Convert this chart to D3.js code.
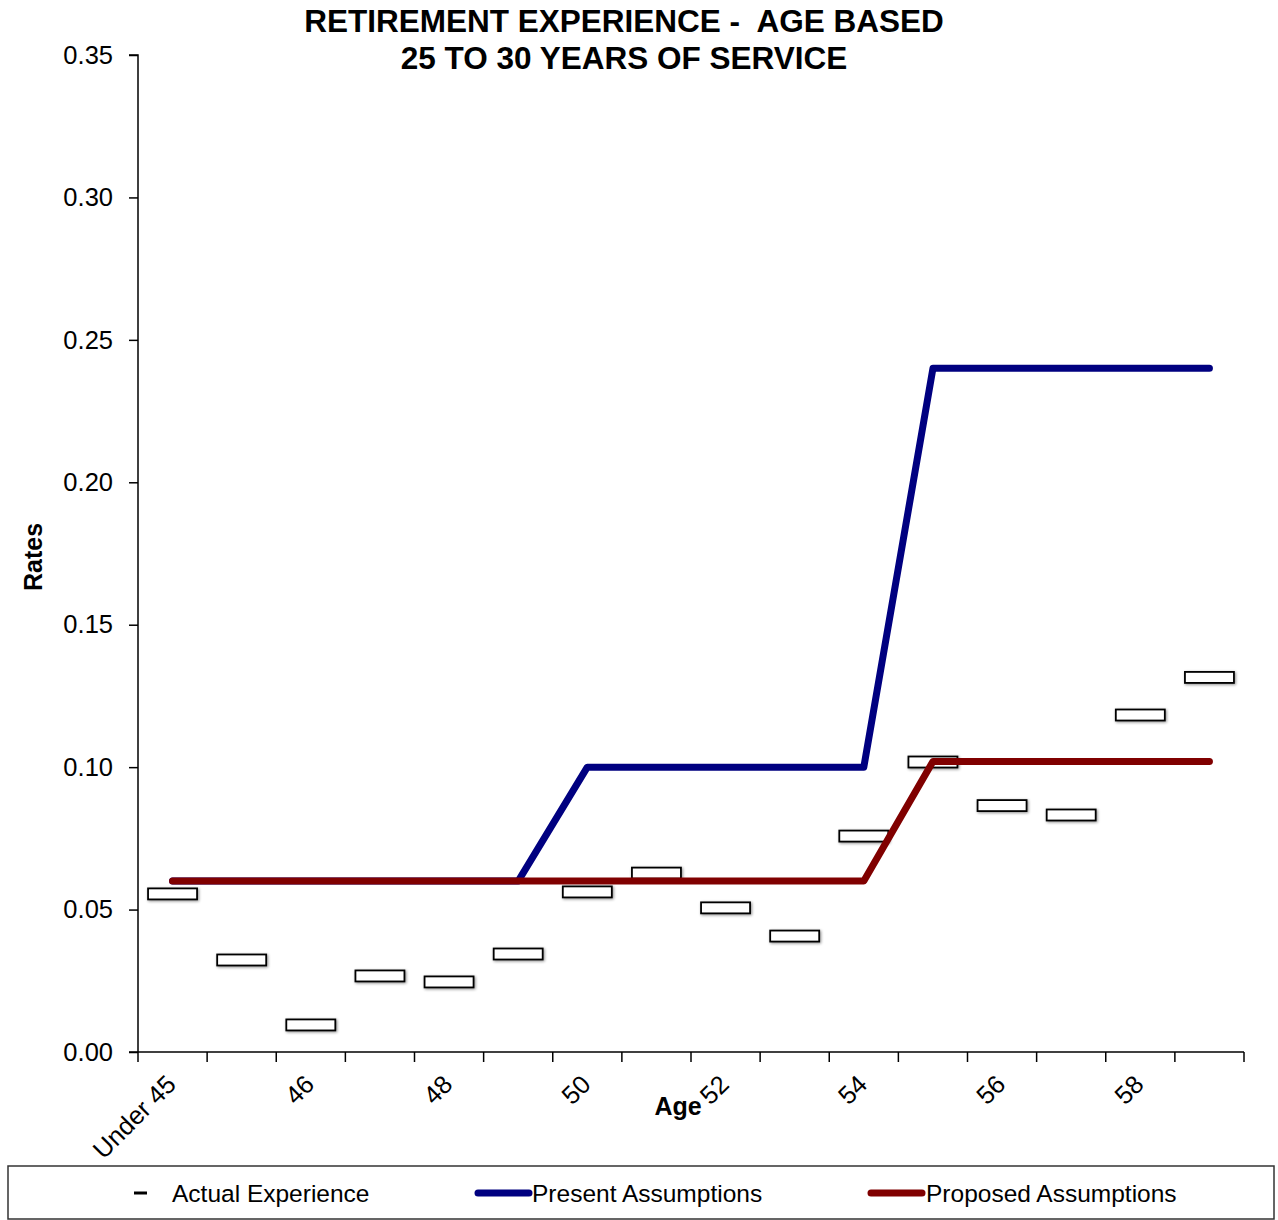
<!DOCTYPE html>
<html>
<head>
<meta charset="utf-8">
<script src="https://cdn.jsdelivr.net/npm/d3@7"></script>
<style>
  html, body { margin: 0; padding: 0; background: #fff; }
  svg { display: block; font-family: "Liberation Sans", Arial, sans-serif; }
</style>
</head>
<body>
<svg id="chart" width="1278" height="1220"></svg>
<script>
// Age categories along the x axis
const ages = ["Under 45", "45", "46", "47", "48", "49", "50", "51", "52", "53", "54", "55", "56", "57", "58", "59"];
// Observed retirement rates
const actualExperience = [0.0555, 0.0323, 0.0095, 0.0267, 0.0246, 0.0344, 0.0562, 0.0628, 0.0506, 0.0407, 0.0758, 0.1018, 0.0865, 0.0832, 0.1183, 0.1315];
// Current assumed rates
const presentAssumptions = [0.06, 0.06, 0.06, 0.06, 0.06, 0.06, 0.10, 0.10, 0.10, 0.10, 0.10, 0.24, 0.24, 0.24, 0.24, 0.24];
// Recommended assumed rates
const proposedAssumptions = [0.06, 0.06, 0.06, 0.06, 0.06, 0.06, 0.06, 0.06, 0.06, 0.06, 0.06, 0.102, 0.102, 0.102, 0.102, 0.102];
// Tick values
const yTicks = [0, 0.05, 0.10, 0.15, 0.20, 0.25, 0.30, 0.35];
const labeledAges = ["Under 45", "46", "48", "50", "52", "54", "56", "58"];

const svg = d3.select("#chart");
const plot = { left: 138, right: 1244, top: 55, bottom: 1052 };

const x = d3.scaleBand().domain(ages).range([plot.left, plot.right]).padding(0);
const y = d3.scaleLinear().domain([0, 0.35]).range([plot.bottom, plot.top]);

// soft shadow for the experience markers
const defs = svg.append("defs");
const f = defs.append("filter").attr("id", "shadow").attr("x", "-30%").attr("y", "-100%").attr("width", "160%").attr("height", "300%");
f.append("feGaussianBlur").attr("in", "SourceAlpha").attr("stdDeviation", 1.6).attr("result", "b");
f.append("feOffset").attr("in", "b").attr("dx", 1).attr("dy", 1).attr("result", "o");
f.append("feComponentTransfer").attr("in", "o").attr("result", "s")
  .append("feFuncA").attr("type", "linear").attr("slope", 0.45);
const m = f.append("feMerge");
m.append("feMergeNode").attr("in", "s");
m.append("feMergeNode").attr("in", "SourceGraphic");

// Title
const title = svg.append("text").attr("text-anchor", "middle")
  .attr("font-weight", "bold").attr("font-size", 31.5).attr("fill", "#000");
title.append("tspan").attr("x", 624).attr("y", 32).attr("xml:space", "preserve").text("RETIREMENT EXPERIENCE -  AGE BASED");
title.append("tspan").attr("x", 624).attr("y", 69).attr("xml:space", "preserve").text("25 TO 30 YEARS OF SERVICE");

// Y axis
const yAxis = d3.axisLeft(y).tickValues(yTicks).tickFormat(d3.format(".2f")).tickSize(9).tickPadding(16);
const gy = svg.append("g").attr("transform", `translate(${plot.left},0)`).call(yAxis);
gy.select(".domain").attr("stroke", "#000").attr("stroke-width", 1.5).attr("d", `M-9,${plot.top}H0V${plot.bottom}`);
gy.selectAll(".tick line").attr("stroke", "#000").attr("stroke-width", 1.5);
gy.selectAll(".tick text").attr("font-size", 25.5).attr("fill", "#000")
  .attr("font-family", "'Liberation Sans', Arial, sans-serif");

// X axis: ticks at category boundaries
const boundaries = ages.map(a => x(a)).concat([plot.right]);
const gx = svg.append("g");
gx.append("line").attr("x1", plot.left - 9).attr("x2", plot.right).attr("y1", plot.bottom).attr("y2", plot.bottom)
  .attr("stroke", "#000").attr("stroke-width", 1.5);
gx.selectAll("line.tk").data(boundaries).join("line").attr("class", "tk")
  .attr("x1", d => d).attr("x2", d => d).attr("y1", plot.bottom).attr("y2", plot.bottom + 10)
  .attr("stroke", "#000").attr("stroke-width", 1.5);
gx.selectAll("text.lbl").data(labeledAges).join("text").attr("class", "lbl")
  .attr("text-anchor", "end").attr("font-size", 25.5).attr("fill", "#000")
  .attr("transform", d => `translate(${x(d) + x.bandwidth() / 2 + 5},${plot.bottom + 34}) rotate(-45)`)
  .text(d => d);

// Axis titles
svg.append("text").attr("x", 678).attr("y", 1115).attr("text-anchor", "middle")
  .attr("font-weight", "bold").attr("font-size", 25).text("Age");
svg.append("text").attr("transform", "translate(42,557) rotate(-90)").attr("text-anchor", "middle")
  .attr("font-weight", "bold").attr("font-size", 25).text("Rates");

const cx = d => x(d) + x.bandwidth() / 2;

// Actual experience markers
svg.append("g").selectAll("rect").data(ages).join("rect")
  .attr("x", d => cx(d) - 24.5).attr("y", (d, i) => y(actualExperience[i]) - 5.5)
  .attr("width", 49).attr("height", 11)
  .attr("fill", "#fff").attr("stroke", "#000").attr("stroke-width", 1.8)
  .attr("filter", "url(#shadow)");

// Assumption lines
const line = d3.line().x(d => cx(d[0])).y(d => y(d[1]));
svg.append("path").datum(ages.map((a, i) => [a, presentAssumptions[i]]))
  .attr("d", line).attr("fill", "none").attr("stroke", "#000080").attr("stroke-width", 7)
  .attr("stroke-linecap", "round").attr("stroke-linejoin", "round");
svg.append("path").datum(ages.map((a, i) => [a, proposedAssumptions[i]]))
  .attr("d", line).attr("fill", "none").attr("stroke", "#800000").attr("stroke-width", 7)
  .attr("stroke-linecap", "round").attr("stroke-linejoin", "round");

// Legend
const lg = svg.append("g");
lg.append("rect").attr("x", 8).attr("y", 1166).attr("width", 1266).attr("height", 53)
  .attr("fill", "#fff").attr("stroke", "#333").attr("stroke-width", 1.5);
const ly = 1193;
lg.append("line").attr("x1", 134).attr("x2", 147).attr("y1", ly).attr("y2", ly).attr("stroke", "#000").attr("stroke-width", 3);
lg.append("text").attr("x", 172).attr("y", ly + 9).attr("font-size", 24.5).text("Actual Experience");
lg.append("line").attr("x1", 478).attr("x2", 529).attr("y1", ly).attr("y2", ly).attr("stroke", "#000080").attr("stroke-width", 7).attr("stroke-linecap", "round");
lg.append("text").attr("x", 532).attr("y", ly + 9).attr("font-size", 24.5).text("Present Assumptions");
lg.append("line").attr("x1", 871).attr("x2", 922).attr("y1", ly).attr("y2", ly).attr("stroke", "#800000").attr("stroke-width", 7).attr("stroke-linecap", "round");
lg.append("text").attr("x", 926).attr("y", ly + 9).attr("font-size", 24.5).text("Proposed Assumptions");
</script>
</body>
</html>
